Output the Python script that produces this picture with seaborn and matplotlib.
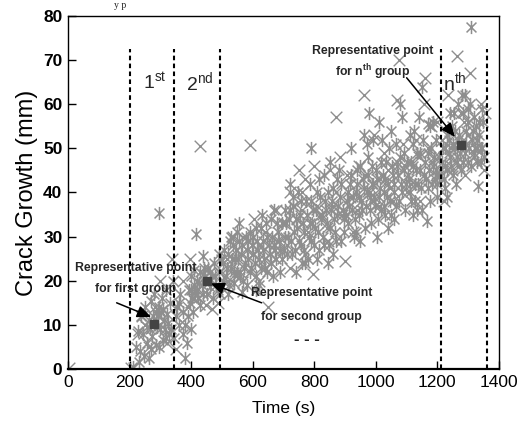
import matplotlib
matplotlib.use("Agg")
import matplotlib.pyplot as plt
from matplotlib.path import Path
import seaborn as sns
import pandas as pd

# ---- data ----
star_t = [212,232,248,262,268,285,296,308,318,226,242,255,262,275,288,300,312,322,335,238,250,268,280,295,305,318,330,340,296,285,272,258,310,325,
          355,362,372,380,385,390,395,400,405,412,418,422,428,435,440,446,455,460,468,475,482,490,495,415,440,380,398,408,430,470,365,352,
          505,512,520,528,535,542,550,556,562,570,575,582,590,596,602,610,615,622,628,635,640,648,655,660,668,675,682,690,696,540,565,600,620,645,670,688,530,548,585,
          705,712,718,725,732,738,745,752,758,765,772,778,785,790,796,802,808,815,822,828,835,842,848,855,862,868,875,882,888,895,720,748,790,830,860,880,740,770,810,850,
          905,910,916,922,928,935,940,946,952,958,965,970,976,982,988,995,1000,1006,1012,1018,1025,1030,1036,1042,1048,1055,1060,1068,1075,1082,1090,1096,960,978,990,1010,1050,1080,1085,1005,1060,950,1040,
          1105,1110,1115,1120,1126,1132,1138,1145,1150,1156,1160,1165,1170,1176,1180,1186,1192,1198,1204,1110,1140,1150,1170,1195,1120,
          1215,1220,1226,1232,1238,1242,1248,1252,1258,1264,1270,1276,1282,1288,1294,1300,1306,1312,1318,1324,1330,1336,1342,1348,1310,1290,1320,1332,1240,1268,1225,1260,
          502,508,515,522,526,532,538,545,552,558,566,572,578,586,592,598,606,612,618,626,632,638,644,652,658,664,672,678,686,694,520,555,580,630,665,610,
          702,708,714,722,728,734,742,750,756,762,768,776,782,788,794,800,806,812,818,824,832,838,844,852,858,864,872,878,886,892,898,730,760,785,815,845,875,705,
          902,908,914,920,926,932,938,944,950,956,962,968,974,980,986,992,998,1004,1010,1016,1022,1028,1034,1040,1046,1052,1058,1064,1072,1078,1084,1092,1098,920,970,1020,1065,935,985,1030,
          1102,1108,1114,1122,1128,1134,1142,1148,1154,1162,1168,1174,1182,1188,1194,1200,1206,1125,1185,1175,1135,
          1212,1218,1224,1230,1236,1244,1250,1256,1262,1266,1272,1278,1284,1292,1298,1304,1310,1316,1322,1328,1334,1340,1346,1352,1280,1300,1255,1345,1230,
          220,235,265,278,292,302,315,328,345,360,375,392,402,418,425,438,452,462,478,486,498,408,398,442,490]
star_y = [0.5,1.5,3,2.5,4.5,5.5,5,6.5,7,8.5,8,6,11,12,9.5,9,11,12.5,9,12,14,15.5,17,14,16,18,15,20,35.3,13,7.5,9.5,13.5,10.5,
          14,10,8,2.5,6,12,15,18,13,17.5,20,16,22,19,17,21,23,18.5,21,24,19,22,17,30.5,25.5,10,9,22.5,14.5,16,17,12,
          24,21,26,23,28,25,22,29,26,20,24,27,31,23,26,21,29,25,32,27,23,30,26,34,28,25,31,27,33,19.5,17.5,30,19,22,36,22,30,31,29,
          30,26,34,29,37,27,32,35,28,31,38,25,33,29,36,32,40,27,34,30,38,33,28,36,41,31,35,39,29,34,42,40,50,44,26,45,22,24,25,47,
          38,33,42,36,30,40,45,35,38,43,32,40,48,36,42,39,45,34,41,47,37,43,39,50,35,44,40,46,38,42,49,36,53,58,52,56,54,60,57,30,34,29,32,
          44,40,47,51,38,45,42,49,36,44,47,33.5,41,55,50,46,43,39,48,53,57,64,55.5,52,35,
          47,43,50,45,52,48,55,44,50,47,53,45,58,49,54,47,60,52,49,55,47,53,50,56,77.5,62,57,41.5,58,60,41,42,
          20,27,23,19,29,25,22,27,25,21,28,23,30,25,22,28,24,32,27,23,29,25,33,28,24,30,27,33,29,25,17,33,19,35,21,18,
          27,33,30,36,26,31,34,29,38,33,27,35,30,38,33,28,36,31,39,35,28,36,40,32,38,34,29,37,42,36,31,39,24,42,43,24,43,36,
          35,40,37,44,39,34,42,39,46,36,41,37,44,39,46,42,37,43,39,36,44,40,47,42,38,46,42,37,44,48,40,45,42,50,51,52,51,31,33,35,
          47,43,38,46,42,49,45,41,52,43,49,45,42,48,45,42,44,54,56,38,36,
          44,50,46,53,49,46,51,54,48,52,49,51,47,51,56,50,46,54,50,52,56,47,50,48,62,59,58,59,39,
          5,4,9,10.5,12,13,9,8,7,15,13,18,16,18,19.5,21.5,17,22,21,18,25,19,21,23,26]

cross_t = [3,205,240,262,228,282,300,320,338,350,372,395,430,448,468,488,495,410,520,535,560,590,605,625,650,660,675,700,720,735,750,760,770,795,800,820,845,870,885,900,905,925,945,962,980,995,1010,1025,1040,1055,1075,1070,1088,1100,1130,1145,1158,1182,1200,1220,1235,1248,1262,1275,1290,1305,1320,1340,1350,1355,870,1160,1180,
           515,545,570,600,640,680,710,745,780,810,840,860,890,915,940,965,990,1015,1045,1070,1095,1115,1140,1170,1195,1215,1245,1270,1298,1330,1285,850,760,620,460,390,300,250,770,720]
cross_y = [0.2,0.2,12,5,8,14,20,6,25,4.5,20,25,50.5,14.5,13.5,15,22,16,20,30,22,50.7,34,28,14,24,36,33,23,37,45,40,26,21.5,46,35,29,40,48,24.5,44,31,46,62,40,53,37,49,45,38,70,61,51,40,52,38,60,47,56,38,62,45,71,58,44,67,48,60,45,58,57,66,55,
           25,21,30,26,31,29,28,34,31,37,32,37,35,39,36,44,38,43,41,47,46,42,48,50,44,52,50,46,53,50,56,45,36,20,20,14,10,10,43,40]

rep_t = [280, 450, 1275]
rep_y = [10.2, 20.0, 50.8]

group_bounds = [200, 345, 495, 1210, 1360]
group_labels = [r"$1^{\mathrm{st}}$", r"$2^{\mathrm{nd}}$", r"$\mathrm{n}^{\mathrm{th}}$"]
group_label_t = [283, 428, 1258]

xticks = [0, 200, 400, 600, 800, 1000, 1200, 1400]
yticks = [0, 10, 20, 30, 40, 50, 60, 70, 80]

# ---- style ----
sns.set_theme(style="white")
plt.rcParams["font.family"] = ["Liberation Sans", "DejaVu Sans"]
plt.rcParams["mathtext.fontset"] = "custom"
plt.rcParams["mathtext.rm"] = "Liberation Sans"
plt.rcParams["mathtext.bf"] = "Liberation Sans:bold"
plt.rcParams["mathtext.it"] = "Liberation Sans:italic"

fig = plt.figure(figsize=(5.29, 4.32), dpi=100)
ax = fig.add_axes([68/529, 1-369/432, (499-68)/529, (369-16)/432])

gray = "#8e8e8e"
star_path = Path([(0, -1), (0, 1), (-0.75, -0.75), (0.75, 0.75), (-0.75, 0.75), (0.75, -0.75)],
                 [Path.MOVETO, Path.LINETO, Path.MOVETO, Path.LINETO, Path.MOVETO, Path.LINETO])

n = min(len(star_t), len(star_y))
m = min(len(cross_t), len(cross_y))
df_s = pd.DataFrame({"t": star_t[:n], "y": star_y[:n]})
df_c = pd.DataFrame({"t": cross_t[:m], "y": cross_y[:m]})
sns.scatterplot(data=df_c, x="t", y="y", marker="x", s=70, color=gray, linewidth=1.0, ax=ax, zorder=2)
sns.scatterplot(data=df_s, x="t", y="y", marker=star_path, s=90, color=gray, edgecolor=gray,
                linewidth=1.1, ax=ax, zorder=2)
ax.plot(rep_t, rep_y, linestyle="none", marker="s", markersize=6, color="#444444", zorder=4)

for b in group_bounds:
    ax.plot([b, b], [0, 72.5], color="black", linestyle=(0, (2.2, 1.6)), linewidth=1.5, zorder=3)

for lab, t in zip(group_labels, group_label_t):
    ax.text(t, 65, lab, ha="center", va="center", fontsize=14)

ann = dict(fontsize=8.8, fontweight="bold", ha="center", va="center")
ax.text((136-68.3)/0.308, (369-268)/4.41, "Representative point", **ann)
ax.text((136-68.3)/0.308, (369-289)/4.41, "for first group", **ann)
ax.text((312-68.3)/0.308, (369-293)/4.41, "Representative point", **ann)
ax.text((312-68.3)/0.308, (369-317)/4.41, "for second group", **ann)
ax.text((373-68.3)/0.308, (369-51)/4.41, "Representative point", **ann)
ax.text((373-68.3)/0.308, (369-72)/4.41, r"for n$^{\mathbf{th}}$ group", **ann)

arrowprops = dict(arrowstyle="-|>,head_length=0.7,head_width=0.3", color="black", lw=1.1, shrinkA=0, shrinkB=0)
ax.annotate("", xy=(270, 11.8), xytext=(158, 15), arrowprops=arrowprops)
ax.annotate("", xy=(463, 19.4), xytext=(629, 15), arrowprops=arrowprops)
ax.annotate("", xy=(1257, 52.6), xytext=(1100, 66), arrowprops=arrowprops)

ax.text(775, 6.6, "- - -", ha="center", va="center", fontsize=12, fontweight="bold")

ax.set_xlim(0, 1400)
ax.set_ylim(0, 80)
ax.set_xticks(xticks)
ax.set_yticks(yticks)
ax.set_xticklabels([str(v) for v in xticks], fontsize=12.5)
ax.set_yticklabels([str(v) for v in yticks], fontsize=12.5, fontweight="bold")
ax.tick_params(axis="both", direction="in", length=6, width=1, color="black", pad=4,
               bottom=True, left=True, top=False, right=False, labelcolor="black")
ax.set_xlabel("Time (s)", fontsize=12.5, labelpad=8, color="black")
ax.set_ylabel("Crack Growth (mm)", fontsize=17, labelpad=4, color="black")
for side, sp in ax.spines.items():
    sp.set_color("black")
    sp.set_linewidth(1.0)
ax.spines["bottom"].set_linewidth(1.6)

fig.text(114/529, 1 - 1/432, "y p", fontsize=7, family="Liberation Serif", va="top", ha="left")

fig.savefig("out.png", dpi=100)
